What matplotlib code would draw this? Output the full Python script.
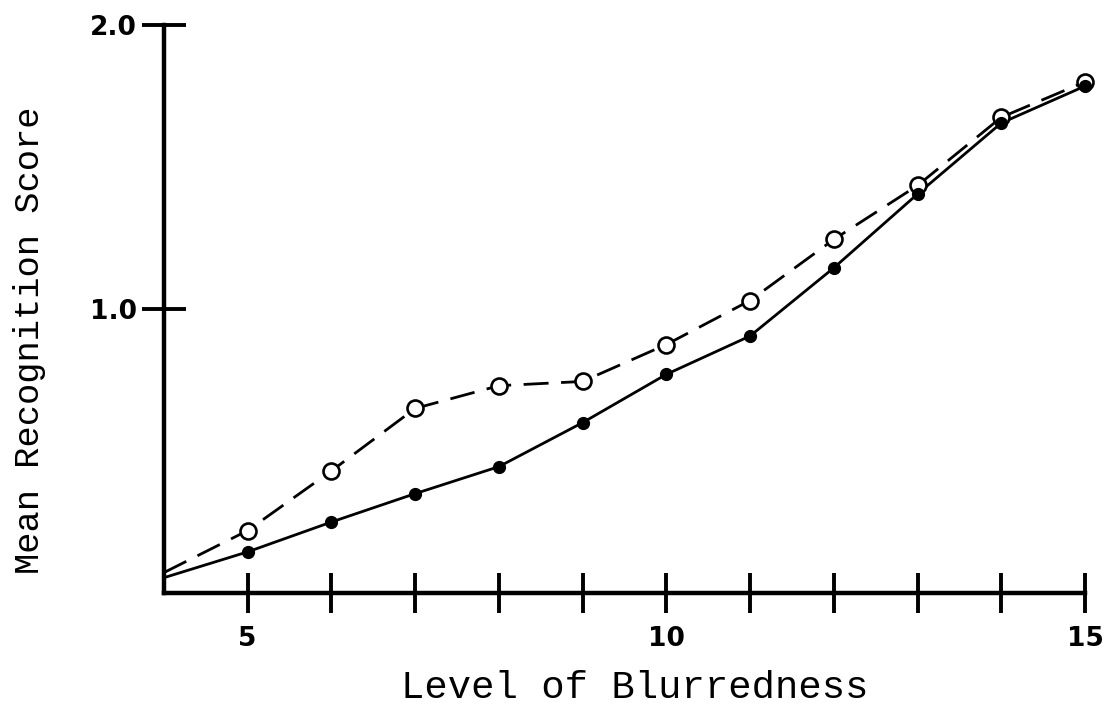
import matplotlib
matplotlib.use("Agg")
import matplotlib.pyplot as plt

x_start = [4]
levels = [5, 6, 7, 8, 9, 10, 11, 12, 13, 14, 15]
open_scores = [0.22, 0.43, 0.65, 0.73, 0.745, 0.875, 1.03, 1.245, 1.435, 1.675, 1.80]
filled_scores = [0.145, 0.25, 0.35, 0.445, 0.60, 0.77, 0.905, 1.145, 1.405, 1.655, 1.785]
open_start = [0.072]
filled_start = [0.054]
xtick_vals = [5, 6, 7, 8, 9, 10, 11, 12, 13, 14, 15]
xtick_labels = ["5", "", "", "", "", "10", "", "", "", "", "15"]
ytick_vals = [1.0, 2.0]
ytick_labels = ["1.0", "2.0"]

fig = plt.figure(figsize=(11.10, 7.21), dpi=100)
ax = fig.add_axes([0.1477, 0.1775, 0.8298, 0.7878])

ax.plot(x_start + levels, open_start + open_scores, color="black", lw=2.0,
        dashes=(9, 4.5), clip_on=False, zorder=2)
ax.plot(levels, open_scores, linestyle="none", marker="o", ms=11.5,
        mfc="white", mec="black", mew=1.9, clip_on=False, zorder=3)
ax.plot(x_start + levels, filled_start + filled_scores, color="black", lw=2.0,
        clip_on=False, zorder=2)
ax.plot(levels, filled_scores, linestyle="none", marker="o", ms=8.5,
        mfc="black", mec="black", clip_on=False, zorder=4)

ax.set_xlim(4, 15)
ax.set_ylim(0, 2.0)
for s in ["top", "right"]:
    ax.spines[s].set_visible(False)
for s in ["left", "bottom"]:
    ax.spines[s].set_linewidth(3.2)

tick_font = dict(family="DejaVu Sans", weight="heavy", size=19)
ax.set_xticks(xtick_vals)
ax.set_xticklabels(xtick_labels, fontdict=tick_font)
ax.set_yticks(ytick_vals)
ax.set_yticklabels(ytick_labels, fontdict=tick_font)
ax.tick_params(axis="x", direction="inout", length=29, width=2.8, pad=9)
ax.tick_params(axis="y", direction="inout", length=31, width=2.8, pad=4)

ax.set_xlabel("Level of Blurredness", fontfamily="Liberation Mono", fontsize=28)
ax.set_ylabel("Mean Recognition Score", fontfamily="Liberation Mono", fontsize=25.5)
ax.xaxis.set_label_coords(0.511, -0.136)
ax.yaxis.set_label_coords(-0.128, 0.445)

fig.savefig("out.png", dpi=100, facecolor="white")
